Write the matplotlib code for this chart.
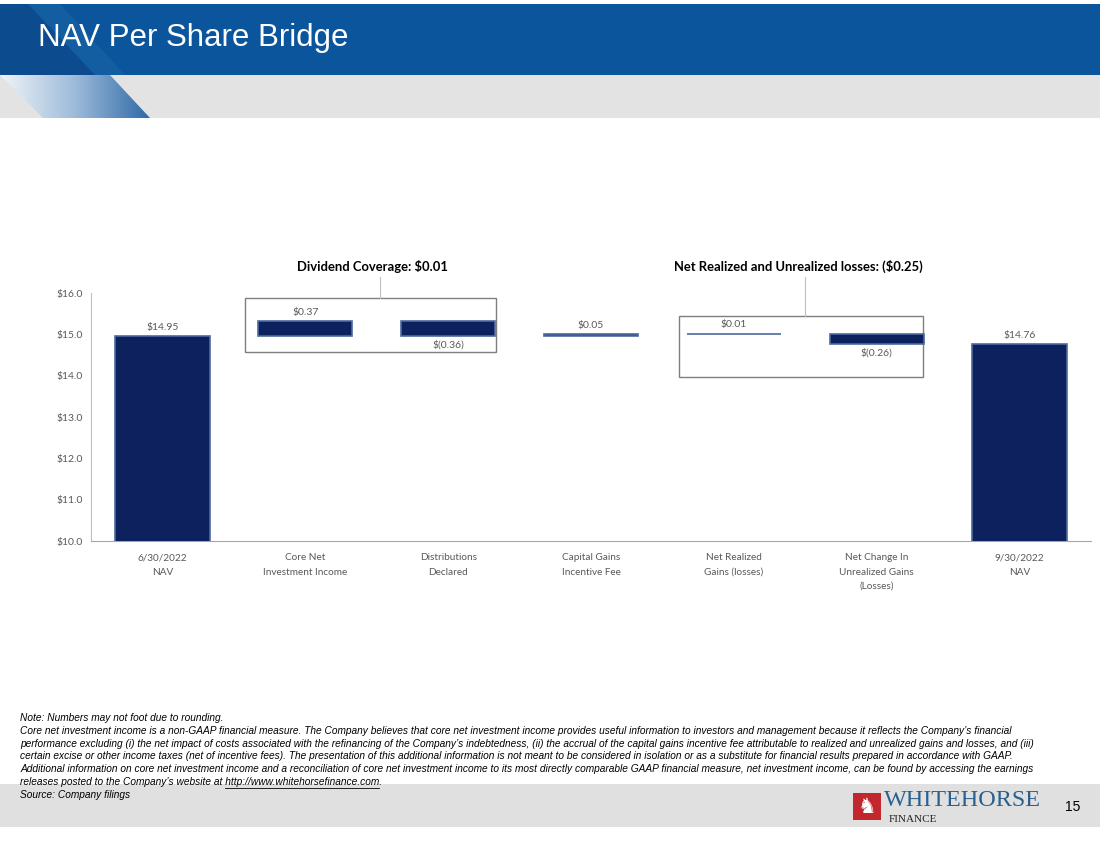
import numpy as np
import matplotlib.pyplot as plt
from matplotlib.patches import Rectangle, Polygon

# chart data
categories = ['6/30/2022\nNAV', 'Core Net\nInvestment Income', 'Distributions\nDeclared',
              'Capital Gains\nIncentive Fee', 'Net Realized\nGains (losses)',
              'Net Change In\nUnrealized Gains\n(Losses)', '9/30/2022\nNAV']
changes = [14.95, 0.37, -0.36, 0.05, 0.01, -0.26, 14.76]
is_total = [True, False, False, False, False, False, True]
value_labels = ['$14.95', '$0.37', '$(0.36)', '$0.05', '$0.01', '$(0.26)', '$14.76']
y_ticks = [10, 11, 12, 13, 14, 15, 16]
y_tick_labels = ['$10.0', '$11.0', '$12.0', '$13.0', '$14.0', '$15.0', '$16.0']
group_titles = ['Dividend Coverage: $0.01', 'Net Realized and Unrealized losses: ($0.25)']

note_lines = [
    "Note: Numbers may not foot due to rounding.",
    "Core net investment income is a non-GAAP financial measure. The Company believes that core net investment income provides useful information to investors and management because it reflects the Company\u2019s financial",
    "performance excluding (i) the net impact of costs associated with the refinancing of the Company\u2019s indebtedness, (ii) the accrual of the capital gains incentive fee attributable to realized and unrealized gains and losses, and (iii)",
    "certain excise or other income taxes (net of incentive fees). The presentation of this additional information is not meant to be considered in isolation or as a substitute for financial results prepared in accordance with GAAP.",
    "Additional information on core net investment income and a reconciliation of core net investment income to its most directly comparable GAAP financial measure, net investment income, can be found by accessing the earnings",
]
url_prefix = "releases posted to the Company\u2019s website at "
url = "http://www.whitehorsefinance.com"
source_line = "Source: Company filings"

NAVY = '#0c215e'
EDGE = '#4d6b9e'
GRAY_TXT = '#595959'

fig = plt.figure(figsize=(11, 8.49), dpi=100)

# page background / decorations in pixel coordinates
bg = fig.add_axes([0, 0, 1, 1])
bg.set_xlim(0, 1100)
bg.set_ylim(849, 0)
bg.axis('off')

bg.add_patch(Rectangle((0, 4), 1100, 71, color='#0a559c', lw=0))
bg.add_patch(Rectangle((0, 75), 1100, 43, color='#e3e3e3', lw=0))
bg.add_patch(Polygon([(0, 4), (28, 4), (95, 75), (0, 75)], closed=True, color='#0b4b8e', lw=0))
bg.add_patch(Polygon([(28, 4), (60, 4), (125, 75), (95, 75)], closed=True, color='#1a63a6', lw=0, alpha=0.6))
# gradient stripe below the header
stripe = Polygon([(0, 75), (110, 75), (150, 118), (43, 118)], closed=True, facecolor='none', lw=0)
bg.add_patch(stripe)
grad = np.linspace(0, 1, 256).reshape(1, -1)
cmap = plt.matplotlib.colors.LinearSegmentedColormap.from_list('hdr', ['#f0f4f8', '#9dbbd9', '#2f6aa8'])
im = bg.imshow(grad, extent=(0, 150, 118, 75), cmap=cmap, aspect='auto', zorder=1)
im.set_clip_path(stripe)
bg.set_xlim(0, 1100)
bg.set_ylim(849, 0)

bg.text(38, 38, 'NAV Per Share Bridge', color='white', fontsize=22.5,
        family='Liberation Sans', va='center', ha='left')

# footer band and logo
bg.add_patch(Rectangle((0, 784), 1100, 43, color='#e0e0e0', lw=0))
bg.add_patch(Rectangle((853, 793), 28, 27, color='#c1272d', lw=0))
bg.text(867, 807, '\u265e', color='white', fontsize=15, family='DejaVu Sans',
        ha='center', va='center')
bg.text(884, 801, 'WHITEHORSE', color='#2a5f8e', fontsize=17.4, family='Liberation Serif',
        ha='left', va='center')
bg.text(889, 819, 'FINANCE', color='#222222', fontsize=8, family='Liberation Serif',
        ha='left', va='center')
bg.text(1073, 807, '15', color='black', fontsize=10, family='Liberation Sans',
        ha='center', va='center')

# footnotes
note_kw = dict(fontsize=7.27, family='Liberation Sans', style='italic', color='black',
               ha='left', va='center')
y0, dy = 718, 12.8
for i, line in enumerate(note_lines):
    bg.text(20, y0 + i * dy, line, **note_kw)
bg.text(20, y0 + 5 * dy, url_prefix + url + '.', **note_kw)
bg.text(20, y0 + 6 * dy, source_line, **note_kw)

# underline under the link: measure with invisible helper texts
t_a = bg.text(20, y0 + 5 * dy, url_prefix + url, alpha=0, **note_kw)
t_b = bg.text(20, y0 + 5 * dy, url, alpha=0, **note_kw)
fig.canvas.draw()
r = fig.canvas.get_renderer()
inv = bg.transData.inverted()
ea = t_a.get_window_extent(r)
eb = t_b.get_window_extent(r)
u_x1 = inv.transform((ea.x1, ea.y0))[0]
u_x0 = inv.transform((ea.x1 - eb.width, ea.y0))[0]
bg.plot([u_x0, u_x1], [y0 + 5 * dy + 5.5, y0 + 5 * dy + 5.5], color='black', lw=0.6)

# waterfall chart
ax = fig.add_axes([91 / 1100, (849 - 541) / 849, 1000 / 1100, 248 / 849])
ax.patch.set_alpha(0)
x = np.arange(len(categories))
bottoms, heights = [], []
running = 0.0
for val, tot in zip(changes, is_total):
    if tot:
        bottoms.append(0)
        heights.append(val)
        running = val
    else:
        bottoms.append(running if val > 0 else running + val)
        heights.append(abs(val))
        running += val

ax.bar(x, heights, bottom=bottoms, width=0.66, color=NAVY, edgecolor=EDGE, linewidth=1.2, zorder=3)

for xi, b, h, val, lab in zip(x, bottoms, heights, changes, value_labels):
    if val >= 0:
        ax.annotate(lab, (xi, b + h), xytext=(0, 3), textcoords='offset points',
                    ha='center', va='bottom', fontsize=7.5, color=GRAY_TXT, family='Lato')
    else:
        ax.annotate(lab, (xi, b), xytext=(0, -3), textcoords='offset points',
                    ha='center', va='top', fontsize=7.5, color=GRAY_TXT, family='Lato')

ax.set_xlim(-0.5, 6.5)
ax.set_ylim(10, 16)
ax.set_yticks(y_ticks)
ax.set_yticklabels(y_tick_labels, fontsize=7.5, color=GRAY_TXT, family='Lato')
ax.set_xticks(x)
ax.set_xticklabels(categories, fontsize=7.2, color=GRAY_TXT, family='Lato', linespacing=1.75, va='top')
ax.tick_params(axis='both', length=0)
ax.tick_params(axis='y', pad=6)
ax.tick_params(axis='x', pad=9)
for s in ['top', 'right']:
    ax.spines[s].set_visible(False)
ax.spines['left'].set_color('#bfbfbf')
ax.spines['bottom'].set_color('#a6a6a6')
ax.spines['left'].set_linewidth(0.8)
ax.spines['bottom'].set_linewidth(0.8)

# group callout boxes
boxes = [(0.577, 14.57, 2.334 - 0.577, 15.88 - 14.57, 1.52),
         (3.616, 13.97, 5.324 - 3.616, 15.44 - 13.97, 4.50)]
for (bx, by, bw, bh, cx), title in zip(boxes, group_titles):
    ax.add_patch(Rectangle((bx, by), bw, bh, fill=False, edgecolor='#7f7f7f', lw=1.0,
                           clip_on=False, zorder=2))
    ax.plot([cx, cx], [by + bh, 16.39], color='#bfbfbf', lw=0.8, clip_on=False)
    ax.text(cx - 0.05, 16.65, title, ha='center', va='center', fontsize=9.4,
            fontweight='bold', family='Lato', color='black')

fig.savefig('out.png', dpi=100)
